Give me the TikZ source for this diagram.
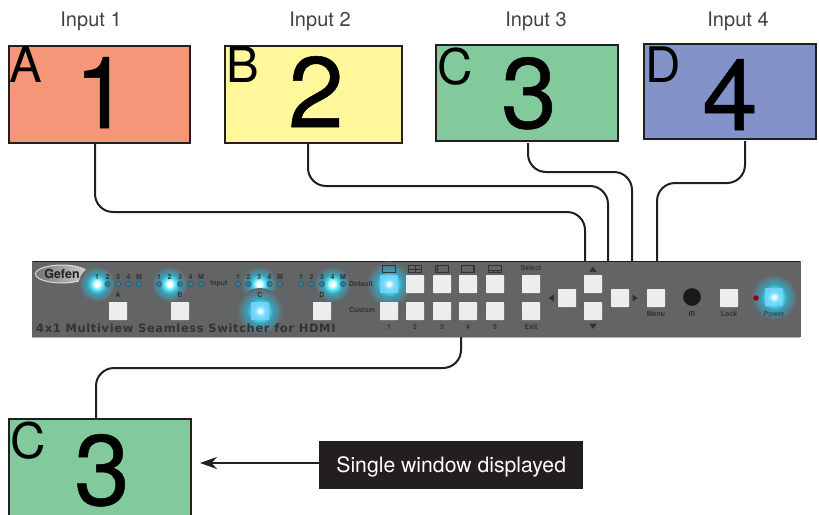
\documentclass[tikz,border=0pt]{standalone}
\usepackage{fontspec}
\setmainfont{TeX Gyre Heros}
\newfontfamily\widefont[LetterSpace=5.5]{DejaVu Sans}
\newfontfamily\heavyfont[FakeBold=0.5]{TeX Gyre Heros}
\usetikzlibrary{arrows.meta,shapes.geometric}
\definecolor{ink}{HTML}{231F20}
\definecolor{salmon}{HTML}{F69679}
\definecolor{lemon}{HTML}{FFF799}
\definecolor{mint}{HTML}{82CA9C}
\definecolor{periw}{HTML}{8393CA}
\definecolor{devgray}{HTML}{636466}
\definecolor{btn}{HTML}{EDEDEB}
\definecolor{prt}{HTML}{333335}
\definecolor{ledblue}{HTML}{2F7C9C}
\definecolor{gA}{rgb}{0.35,0.9,0.95}
\definecolor{gB}{rgb}{0.22,0.62,0.72}
\definecolor{gC}{rgb}{0.34,0.5,0.54}
\definecolor{kA}{rgb}{0.88,0.98,1}
\definecolor{kB}{rgb}{0.5,0.87,0.98}
\definecolor{kC}{rgb}{0.42,0.82,0.98}
\pgfdeclareradialshading{glowbig}{\pgfpoint{0bp}{0bp}}{
 color(0bp)=(white); color(3bp)=(white); color(8bp)=(gA);
 color(14bp)=(gB); color(20bp)=(gC); color(25bp)=(devgray); color(50bp)=(devgray)}
\pgfdeclareradialshading{btnglow}{\pgfpoint{0bp}{0bp}}{
 color(0bp)=(white); color(5bp)=(kA); color(13bp)=(kB); color(25bp)=(kC); color(50bp)=(kC)}
\tikzset{
 screen/.style={draw=ink,line width=2.5pt,inner sep=0pt,anchor=north west},
 bigdigit/.style={anchor=base,inner sep=0pt,font=\heavyfont\fontsize{100}{100}\selectfont},
 bigletter/.style={anchor=base west,inner sep=0pt,font=\fontsize{49}{49}\selectfont},
 inputlabel/.style={inner sep=0pt,text=ink!85,font=\fontsize{20}{24}\selectfont},
 wire/.style={draw=ink,line width=2pt,rounded corners=18pt},
 key/.style={fill=btn,minimum size=18pt,inner sep=0pt,rounded corners=0.6pt},
 litkey/.style={shading=btnglow,minimum size=18pt,inner sep=0pt,rounded corners=0.6pt},
 tiny/.style={inner sep=0pt,text=prt,font=\fontsize{7}{8}\selectfont\bfseries},
 led/.style={circle,fill=ledblue,draw=ledblue!60!black,line width=.3pt,minimum size=5.5pt,inner sep=0pt},
 icon/.style={draw=prt,line width=.45pt}
}
\newcommand{\glowat}[3]{\shade[shading=glowbig] (#1,#2) circle (#3);}
\begin{document}
\begin{tikzpicture}[x=1pt,y=-1pt]
\useasboundingbox (0,0) rectangle (819,514);
\clip (0,0) rectangle (819,514);
% screens
\node[screen,fill=salmon,minimum width=181pt,minimum height=97pt] (s1) at (7.5,44.5) {};
\node[screen,fill=lemon,minimum width=177pt,minimum height=97pt] (s2) at (223.5,44.5) {};
\node[screen,fill=mint,minimum width=182pt,minimum height=96pt] (s3) at (434.5,43.5) {};
\node[screen,fill=periw,minimum width=172pt,minimum height=95pt] (s4) at (642.5,42.5) {};
\node[screen,fill=mint,minimum width=182pt,minimum height=100pt] (out) at (7.5,417.5) {};
\node[inputlabel] (t1) at (91,21) {Input 1};
\node[inputlabel] (t2) at (320,21) {Input 2};
\node[inputlabel] (t3) at (536,21) {Input 3};
\node[inputlabel] (t4) at (738,21) {Input 4};
\node[bigletter] (a) at (9,82) {A};
\node[bigletter] (b) at (226,82) {B};
\node[bigletter] (c) at (437,84) {C};
\node[bigletter] (d) at (645,82) {D};
\node[bigletter] (c2) at (10,458) {C};
\node[bigdigit] (n1) at (102,128) {1};
\node[bigdigit] (n2) at (316,127) {2};
\node[bigdigit] (n3) at (529,128) {3};
\node[bigdigit] (n4) at (730,130) {4};
\node[bigdigit] (n5) at (102,505) {3};
% device
\node[fill=devgray,draw=none,minimum width=768pt,minimum height=76pt,anchor=north west,inner sep=0pt] (dev) at (32,261) {};
\draw[ink,line width=.8pt] (dev.north west) -- (dev.north east);
\draw[ink!70,line width=.5pt] (dev.north west) -- (dev.south west);
\draw[ink!70,line width=.5pt] (dev.north east) -- (dev.south east);
\draw[gray!60,line width=.8pt] (dev.south west) -- (dev.south east);
% connectors
\coordinate (o1) at (95,144); \coordinate (o2) at (308,144); \coordinate (o3) at (528,143); \coordinate (o4) at (745,141);
\coordinate (p1) at (585,261); \coordinate (p2) at (608,261); \coordinate (p3) at (632,261); \coordinate (p4) at (657,261);
\coordinate (m1) at (95,212); \coordinate (m2) at (308,186); \coordinate (m3) at (528,172); \coordinate (m4) at (745,183);
\coordinate (q) at (461,337); \coordinate (m5) at (461,368); \coordinate (o5) at (96,418);
\draw[wire] (o1) -- (m1) -| (p1);
\draw[wire] (o2) -- (m2) -| (p2);
\draw[wire] (o3) -- (m3) -| (p3);
\draw[wire] (o4) -- (m4) -| (p4);
\draw[wire] (q) -- (m5) -| (o5);
% logo
\node[ellipse,draw=white!85!black,left color=devgray!90!white,right color=white!70!devgray,line width=1pt,minimum width=53pt,minimum height=18pt,inner sep=0pt] (logo) at (62,274) {};
\node[inner sep=0pt,text=ink,font=\fontsize{12.5}{13}\selectfont\bfseries] (logot) at (62,274) {Gefen};
% glows first
\foreach \xg/\yg/\rg in {97/284/18,169.5/284/18,259/284/18,332.5/284/18,260/311/23,389/284/22.5,774/297/23}{
 \glowat{\xg}{\yg}{\rg pt}
}
% LEDs and A-D
\foreach \g/\lit/\xa in {A/1/97,B/2/159,C/3/238,D/4/301}{
 \foreach \i/\lab in {1/1,2/2,3/3,4/4,5/M}{
  \pgfmathsetmacro{\xx}{\xa+(\i-1)*10.5}
  \node[tiny] (lab\g\i) at (\xx,277) {\lab};
  \ifnum\i=\lit\relax\else
  \node[led] (led\g\i) at (\xx,284) {};
  \fi
 }
}
\foreach \g/\xk in {A/118,B/180,D/322}{
 \node[key] (key\g) at (\xk,311) {};
 \node[tiny] (name\g) at (\xk,295) {\g};
}
\node[tiny] (nameC) at (260,295) {C};
\node[litkey] (keyC) at (260,311) {};
\node[tiny] (inp) at (219,284) {Input};
\node[tiny] (def) at (361,284) {Default};
\node[tiny] (cus) at (362,310) {Custom};
% window keys
\node[litkey] (w1) at (389,284) {};
\foreach \n/\xk in {2/415,3/442,4/468,5/495}{ \node[key] (w\n) at (\xk,284) {}; }
\foreach \n/\xk in {1/389,2/415,3/442,4/468,5/495}{
 \node[key] (u\n) at (\xk,311) {};
 \node[tiny] (num\n) at (\xk,327) {\n};
 \draw[icon] (\xk-6.5,265.5) rectangle (\xk+6.5,272.5);
}
\draw[icon] (415,265.5)--(415,272.5) (408.5,269)--(421.5,269);
\draw[icon] (437,265.5)--(437,272.5) (435.5,269)--(437,269);
\draw[icon] (473,265.5)--(473,272.5) (473,269)--(474.5,269);
\draw[icon] (488.5,270)--(501.5,270) (493,270)--(493,272.5) (497,270)--(497,272.5);
\node[key] (sel) at (531,284) {};
\node[key] (ex) at (531,311) {};
\node[tiny] (selt) at (531,268) {Select};
\node[tiny] (ext) at (531,327) {Exit};
% navigation
\node[key] (up) at (593,284) {};
\node[key] (dn) at (593,311) {};
\node[key] (lf) at (567,298) {};
\node[key] (rt) at (620,298) {};
\fill[prt] (593,266.5)--(597,272)--(589,272)--cycle;
\fill[prt] (593,329)--(597,323.5)--(589,323.5)--cycle;
\fill[prt] (548.5,298)--(554,294.5)--(554,301.5)--cycle;
\fill[prt] (638,298)--(632.5,294.5)--(632.5,301.5)--cycle;
\node[key] (menu) at (656,298) {};
\node[tiny] (menut) at (656,314) {Menu};
\node[circle,fill=black!90,draw=black!60,line width=1pt,minimum size=19pt,inner sep=0pt] (ir) at (692,297) {};
\node[tiny] (irt) at (692,314) {IR};
\node[key] (lock) at (729,298) {};
\node[tiny] (lockt) at (729,314) {Lock};
\node[circle,fill=red!60!black,minimum size=5.5pt,inner sep=0pt] (rled) at (756,298) {};
\node[litkey] (pw) at (774,297) {};
\node[tiny,text=ledblue!70!black] (pwt) at (774,314) {Power};
% title
\node[anchor=base west,inner sep=0pt,text=prt,font=\widefont\fontsize{11.5}{12}\selectfont\bfseries] (title) at (36,332) {4x1 Multiview Seamless Switcher for HDMI};
% callout
\node[fill=ink,text=white,minimum width=264pt,minimum height=48pt,inner sep=0pt,anchor=north west,text height=15.5pt,text depth=0.5pt,font=\fontsize{21.2}{24}\selectfont] (call) at (319,441) {Single window displayed};
\coordinate (tip) at (200,463);
\draw[ink,line width=1.5pt,-{Stealth[length=17pt,width=12pt]}] (call.west |- tip) -- (tip);
\end{tikzpicture}
\end{document}
